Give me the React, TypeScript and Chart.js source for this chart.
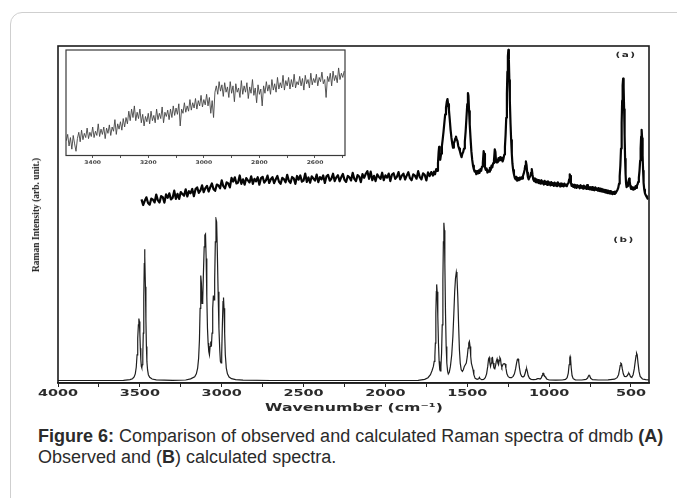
import React, { useEffect, useRef } from "react";
import { Chart, registerables } from "chart.js";

Chart.register(...registerables);

// ---------- DATA ----------
// x-axis tick positions (cm^-1); labels shown on multiples of 500
const xTickValues: number[] = [4000, 3750, 3500, 3250, 3000, 2750, 2500, 2250, 2000, 1750, 1500, 1250, 1000, 750, 500];
// inset tick positions; labels shown on multiples of 200
const insetTickValues: number[] = [3400, 3300, 3200, 3100, 3000, 2900, 2800, 2700, 2600, 2500];

const panelLabels: string[] = ["(a)", "(b)"];
const xTitle = "Wavenumber (cm\u207B\u00B9)";
const yTitle = "Raman Intensity (arb. unit.)";

// (b) calculated spectrum: [wavenumber, intensity]
const calcSpectrum: [number, number][] = [
  [4000, 1.5], [3600, 1.6], [3560, 2.0], [3545, 2.6], [3535, 3.6], [3528, 5.5], [3522, 9.5], [3517, 17], [3513, 27], [3509, 35],
  [3506, 38.8], [3503, 37], [3500, 30], [3497, 21], [3494, 14], [3491, 10], [3488, 9.1], [3485, 11], [3482, 17], [3479, 30],
  [3476, 52], [3473, 72], [3471, 80.6], [3469, 76], [3466, 58], [3463, 38], [3460, 22], [3457, 13], [3453, 8], [3448, 5],
  [3440, 3.4], [3425, 2.4], [3400, 1.9], [3300, 1.6], [3220, 1.8], [3190, 2.5], [3165, 3.8], [3155, 5.5], [3147, 9], [3141, 15],
  [3136, 26], [3132, 45], [3129, 60], [3127, 64.8], [3124, 60], [3120, 48], [3116, 50], [3112, 65], [3107, 82], [3103, 89],
  [3099, 89.7], [3095, 75], [3091, 52], [3087, 33], [3083, 24], [3079, 19], [3075, 17], [3071, 22], [3067, 25], [3063, 22],
  [3059, 30], [3055, 45], [3051, 52.7], [3047, 50], [3043, 62], [3039, 85], [3035, 98.8], [3031, 97], [3027, 80], [3022, 55],
  [3017, 33], [3012, 20], [3008, 13], [3004, 12.1], [3000, 18], [2996, 35], [2992, 49], [2989, 51.5], [2986, 45], [2982, 30],
  [2978, 17], [2972, 9], [2965, 5.5], [2955, 3.6], [2940, 2.6], [2915, 2.0], [2870, 1.7], [2700, 1.5], [2000, 1.5], [1800, 1.6],
  [1760, 2.2], [1740, 3.2], [1725, 5], [1715, 7.5], [1707, 10], [1702, 13], [1698, 16], [1695, 24], [1692, 42], [1689, 55],
  [1687, 59.4], [1684, 55], [1680, 40], [1676, 24], [1672, 13], [1668, 8], [1665, 7.3], [1661, 10], [1657, 18], [1653, 35],
  [1649, 62], [1646, 85], [1643, 96.5], [1640, 92], [1637, 72], [1633, 42], [1629, 22], [1625, 12], [1620, 7], [1616, 5.5],
  [1610, 6.5], [1603, 10], [1595, 17], [1588, 28], [1582, 42], [1577, 55], [1572, 63], [1567, 66.8], [1563, 64], [1558, 52],
  [1553, 35], [1548, 20], [1543, 12], [1537, 8], [1530, 7], [1524, 8], [1518, 10], [1512, 11], [1506, 12], [1500, 16],
  [1495, 21], [1491, 24], [1487, 25], [1483, 22], [1479, 16], [1475, 12], [1470, 10], [1465, 8], [1460, 5], [1452, 2.8],
  [1440, 2.2], [1430, 2.6], [1426, 3.4], [1422, 2.6], [1412, 2.0], [1400, 2.2], [1390, 3.2], [1382, 5.5], [1375, 10], [1370, 14.5],
  [1366, 15.3], [1362, 12], [1358, 10], [1354, 12], [1350, 15], [1346, 15.3], [1342, 12], [1337, 9], [1332, 8.5], [1328, 10],
  [1323, 13], [1318, 14.5], [1313, 12], [1309, 11], [1305, 13.5], [1301, 15.3], [1297, 14.5], [1293, 11], [1289, 9.5], [1285, 10.5],
  [1280, 11.5], [1274, 11.7], [1269, 11.5], [1264, 9], [1258, 5.5], [1250, 3.8], [1240, 3.2], [1230, 3.2], [1220, 4.0], [1212, 5.5],
  [1205, 8.5], [1199, 12], [1194, 14.2], [1190, 14.5], [1186, 13], [1181, 9], [1175, 5.5], [1168, 4], [1160, 3.6], [1152, 4.2],
  [1146, 6], [1141, 8.2], [1137, 8.5], [1133, 7], [1128, 4.5], [1120, 2.8], [1110, 2.2], [1095, 2.0], [1080, 2.2], [1070, 2.6],
  [1062, 2.6], [1055, 2.4], [1048, 3.0], [1043, 4.5], [1039, 5.8], [1036, 5.9], [1032, 5], [1028, 4.2], [1024, 3.8], [1020, 3.2],
  [1012, 2.2], [1000, 1.8], [960, 1.7], [920, 1.8], [900, 2.2], [890, 3.2], [883, 6], [878, 11], [874, 15.2], [872, 15.9],
  [869, 14.5], [865, 9], [860, 4.5], [853, 2.6], [840, 1.9], [800, 1.8], [775, 2.2], [765, 3.0], [760, 4.2], [756, 4.7],
  [752, 4.2], [746, 2.8], [735, 2.0], [700, 1.8], [640, 1.9], [600, 2.3], [585, 3.2], [576, 5], [570, 8], [566, 10.5],
  [562, 11.9], [558, 11.5], [553, 8.5], [547, 5.5], [540, 4], [530, 3.8], [522, 4.5], [517, 5.5], [513, 5.9], [509, 5.2],
  [503, 3.8], [495, 3.4], [487, 5], [480, 8.5], [474, 13], [469, 16.5], [466, 18], [462, 17], [457, 12], [451, 7],
  [444, 4], [430, 2.4], [410, 2.0], [390, 1.9],
];

// (a) observed spectrum: [wavenumber, intensity]
const observedSpectrum: [number, number][] = [
  [3490, 10.3], [3480, 7.0], [3470, 9.5], [3460, 11.5], [3450, 8.2], [3440, 7.2], [3430, 10.8], [3420, 10.1], [3410, 8.5], [3400, 13.1],
  [3390, 9.7], [3380, 8.5], [3370, 12.2], [3360, 11.6], [3350, 8.4], [3340, 13.2], [3330, 11.2], [3320, 13.8], [3310, 10.3], [3300, 11.1],
  [3290, 15.4], [3280, 10.6], [3270, 13.5], [3260, 10.6], [3250, 14.6], [3240, 13.4], [3230, 12.4], [3220, 16.2], [3210, 12.0], [3200, 15.1],
  [3190, 13.9], [3180, 16.4], [3170, 12.2], [3160, 16.3], [3150, 17.3], [3140, 14.1], [3130, 15.5], [3120, 18.5], [3110, 14.5], [3100, 16.9],
  [3090, 18.2], [3080, 14.9], [3070, 17.4], [3060, 19.6], [3050, 16.3], [3040, 15.3], [3030, 19.0], [3020, 18.4], [3010, 16.8], [3000, 21.4],
  [2990, 18.0], [2980, 16.7], [2970, 20.3], [2960, 19.6], [2950, 17.3], [2940, 22.9], [2930, 20.7], [2920, 23.2], [2910, 19.6], [2900, 20.2],
  [2890, 24.3], [2880, 19.4], [2870, 22.0], [2860, 18.9], [2850, 22.8], [2840, 21.4], [2830, 20.2], [2820, 23.8], [2810, 19.4], [2800, 22.3],
  [2790, 20.9], [2780, 23.3], [2770, 18.9], [2760, 22.7], [2750, 23.5], [2740, 20.1], [2730, 21.4], [2720, 24.2], [2710, 19.9], [2700, 22.1],
  [2690, 23.3], [2680, 19.8], [2670, 22.1], [2660, 24.0], [2650, 20.6], [2640, 19.4], [2630, 22.9], [2620, 22.1], [2610, 20.3], [2600, 24.7],
  [2590, 21.2], [2580, 19.9], [2570, 23.4], [2560, 22.6], [2550, 19.4], [2540, 24.0], [2530, 21.8], [2520, 24.3], [2510, 20.7], [2500, 21.3],
  [2490, 25.4], [2480, 20.5], [2470, 23.1], [2460, 20.0], [2450, 23.8], [2440, 22.5], [2430, 21.3], [2420, 24.8], [2410, 20.4], [2400, 23.3],
  [2390, 22.0], [2380, 24.3], [2370, 19.9], [2360, 23.8], [2350, 24.6], [2340, 21.2], [2330, 22.4], [2320, 25.3], [2310, 21.0], [2300, 23.2],
  [2290, 24.4], [2280, 20.9], [2270, 23.2], [2260, 25.2], [2250, 21.7], [2240, 20.5], [2230, 24.0], [2220, 23.2], [2210, 21.4], [2200, 25.8],
  [2190, 22.3], [2180, 21.0], [2170, 24.5], [2160, 23.7], [2150, 20.4], [2140, 25.1], [2130, 22.9], [2120, 25.3], [2110, 26.8], [2100, 22.3],
  [2090, 26.5], [2080, 21.5], [2070, 24.1], [2060, 21.0], [2050, 24.9], [2040, 23.5], [2030, 22.3], [2020, 25.9], [2010, 21.5], [2000, 24.4],
  [1990, 23.0], [1980, 25.4], [1970, 21.0], [1960, 24.8], [1950, 25.6], [1940, 22.3], [1930, 23.5], [1920, 26.3], [1910, 22.0], [1900, 24.2],
  [1890, 25.4], [1880, 21.9], [1870, 24.2], [1860, 26.2], [1850, 22.7], [1840, 21.5], [1830, 25.0], [1820, 24.2], [1810, 22.4], [1800, 26.8],
  [1790, 23.3], [1780, 22.0], [1770, 25.5], [1760, 24.7], [1750, 21.4], [1740, 26.1], [1730, 23.9], [1720, 26.3], [1710, 24.2], [1703, 26.5],
  [1697, 25.0], [1690, 28.0], [1684, 27.0], [1679, 31.5], [1675, 38.0], [1672, 41.0], [1669, 34.0], [1665, 33.5], [1660, 37.0], [1655, 41.5],
  [1650, 45.5], [1645, 50.0], [1640, 55.0], [1635, 60.0], [1630, 64.0], [1625, 67.5], [1621, 69.0], [1617, 66.0], [1612, 62.5], [1607, 57.0],
  [1602, 51.0], [1597, 46.5], [1592, 43.0], [1587, 40.5], [1582, 43.5], [1578, 44.0], [1573, 46.0], [1569, 47.0], [1565, 45.5], [1560, 44.5],
  [1555, 41.5], [1550, 40.0], [1545, 38.5], [1540, 36.5], [1535, 35.0], [1530, 37.0], [1525, 38.0], [1520, 40.0], [1515, 44.0], [1510, 50.0],
  [1505, 58.0], [1500, 66.0], [1496, 72.5], [1493, 71.0], [1489, 62.0], [1485, 54.0], [1480, 46.0], [1475, 38.5], [1470, 33.5], [1465, 30.0],
  [1460, 28.0], [1455, 26.5], [1450, 27.0], [1445, 25.0], [1440, 26.8], [1435, 25.5], [1430, 27.2], [1425, 25.8], [1420, 28.0], [1415, 27.0],
  [1410, 29.5], [1405, 31.5], [1400, 38.5], [1396, 37.0], [1392, 29.0], [1387, 27.5], [1382, 28.4], [1377, 26.0], [1372, 27.2], [1367, 26.5],
  [1362, 28.8], [1357, 27.5], [1352, 30.0], [1347, 29.0], [1342, 31.5], [1337, 33.0], [1332, 39.5], [1328, 38.0], [1324, 32.0], [1319, 33.5],
  [1314, 32.0], [1309, 34.5], [1304, 33.0], [1299, 35.0], [1294, 33.2], [1289, 34.8], [1284, 32.5], [1279, 34.0], [1274, 36.5], [1270, 41.0],
  [1266, 48.0], [1262, 58.0], [1258, 72.0], [1255, 85.0], [1252, 94.0], [1249, 97.7], [1246, 92.0], [1243, 80.0], [1240, 68.0], [1236, 55.0],
  [1232, 45.0], [1228, 37.0], [1224, 31.0], [1220, 27.5], [1215, 25.0], [1210, 23.0], [1205, 22.0], [1200, 23.5], [1195, 21.2], [1190, 22.8],
  [1185, 21.5], [1180, 23.0], [1175, 22.0], [1170, 23.2], [1165, 22.5], [1160, 24.0], [1155, 25.5], [1150, 27.5], [1146, 30.0], [1142, 32.5],
  [1138, 30.5], [1134, 26.0], [1130, 23.5], [1125, 22.0], [1120, 23.2], [1115, 24.0], [1110, 26.0], [1106, 28.0], [1102, 25.0], [1097, 22.0],
  [1092, 21.0], [1087, 22.6], [1082, 20.4], [1077, 22.0], [1072, 20.2], [1067, 21.6], [1062, 19.8], [1057, 21.2], [1052, 19.5], [1047, 21.5],
  [1042, 19.6], [1037, 20.8], [1032, 19.0], [1027, 21.1], [1022, 19.3], [1017, 20.6], [1012, 18.8], [1007, 20.9], [1002, 19.0], [997, 20.2],
  [992, 18.5], [987, 20.4], [982, 18.7], [977, 19.8], [972, 18.2], [967, 20.1], [962, 18.4], [957, 19.6], [952, 18.0], [947, 20.3],
  [942, 18.5], [937, 19.4], [932, 17.8], [927, 19.6], [922, 18.1], [917, 19.2], [912, 17.9], [907, 19.5], [902, 18.4], [897, 19.0],
  [892, 18.0], [887, 19.4], [882, 19.8], [878, 22.0], [874, 25.0], [871, 24.0], [867, 20.0], [863, 18.2], [858, 19.0], [853, 17.6],
  [848, 18.8], [843, 17.2], [838, 18.5], [833, 17.0], [828, 18.6], [823, 17.4], [818, 18.2], [813, 16.8], [808, 18.6], [803, 17.1],
  [798, 18.0], [793, 16.6], [788, 18.3], [783, 16.9], [778, 17.8], [773, 16.4], [768, 18.7], [763, 16.5], [758, 17.6], [753, 16.2],
  [748, 17.4], [743, 16.0], [738, 17.5], [733, 15.9], [728, 17.1], [723, 15.6], [718, 17.3], [713, 15.8], [708, 16.8], [703, 15.4],
  [698, 16.9], [693, 15.2], [688, 16.6], [683, 15.0], [678, 16.5], [673, 14.8], [668, 16.0], [663, 14.5], [658, 15.8], [653, 14.3],
  [648, 15.6], [643, 14.0], [638, 15.4], [633, 13.8], [628, 15.2], [623, 13.6], [618, 14.8], [613, 13.4], [608, 14.6], [603, 13.5],
  [598, 14.9], [593, 14.0], [588, 15.0], [583, 15.8], [578, 17.0], [573, 19.5], [569, 24.0], [565, 30.0], [561, 40.0], [557, 55.0],
  [554, 68.0], [551, 77.0], [548, 81.0], [545, 76.0], [542, 63.0], [539, 48.0], [536, 34.0], [533, 25.0], [530, 19.5], [527, 17.5],
  [523, 18.0], [519, 19.5], [515, 21.0], [511, 22.5], [508, 21.0], [504, 18.0], [500, 16.5], [496, 17.5], [492, 16.2], [488, 17.4],
  [484, 16.0], [480, 17.2], [476, 16.4], [472, 18.0], [468, 17.0], [464, 18.5], [460, 19.0], [456, 20.5], [452, 23.0], [448, 27.0],
  [444, 33.0], [441, 40.0], [438, 47.0], [435, 51.0], [432, 46.0], [429, 36.0], [426, 27.0], [423, 20.0], [419, 16.0], [415, 14.0],
  [411, 13.0], [407, 12.2], [403, 11.5], [399, 10.8], [395, 10.5],
];

// inset: observed spectrum 3500-2500 cm^-1, [wavenumber, intensity]
const insetSpectrum: [number, number][] = [
  [3495, 14], [3490, 20], [3485, 9], [3480, 17], [3475, 6], [3470, 19], [3465, 11], [3460, 4], [3455, 16], [3450, 22],
  [3445, 13], [3440, 24], [3435, 15], [3430, 21], [3425, 17], [3420, 26], [3415, 16], [3410, 22], [3405, 18], [3400, 27],
  [3395, 17], [3390, 23], [3385, 19], [3380, 30], [3375, 18], [3370, 25], [3365, 20], [3360, 27], [3355, 16], [3350, 26],
  [3345, 21], [3340, 29], [3335, 19], [3330, 27], [3325, 23], [3320, 34], [3315, 20], [3310, 30], [3305, 25], [3300, 32],
  [3295, 24], [3290, 35], [3285, 27], [3280, 36], [3275, 30], [3270, 42], [3265, 33], [3260, 44], [3255, 36], [3250, 47],
  [3245, 33], [3240, 41], [3235, 35], [3230, 44], [3225, 31], [3220, 39], [3215, 28], [3210, 37], [3205, 32], [3200, 40],
  [3195, 30], [3190, 42], [3185, 33], [3180, 38], [3175, 31], [3170, 44], [3165, 34], [3160, 40], [3155, 35], [3150, 46],
  [3145, 31], [3140, 41], [3135, 37], [3130, 43], [3125, 34], [3120, 44], [3115, 36], [3110, 47], [3105, 38], [3100, 45],
  [3095, 39], [3090, 49], [3085, 28], [3080, 44], [3075, 40], [3070, 50], [3065, 41], [3060, 47], [3055, 42], [3050, 53],
  [3045, 43], [3040, 50], [3035, 45], [3030, 54], [3025, 44], [3020, 52], [3015, 47], [3010, 57], [3005, 46], [3000, 53],
  [2995, 48], [2990, 58], [2985, 47], [2980, 55], [2975, 40], [2970, 52], [2965, 36], [2960, 60], [2955, 66], [2950, 58],
  [2945, 70], [2940, 61], [2935, 67], [2930, 56], [2925, 69], [2920, 60], [2915, 65], [2910, 55], [2905, 70], [2900, 59],
  [2895, 66], [2890, 51], [2885, 68], [2880, 60], [2875, 64], [2870, 55], [2865, 71], [2860, 58], [2855, 66], [2850, 60],
  [2845, 69], [2840, 54], [2835, 65], [2830, 59], [2825, 72], [2820, 57], [2815, 64], [2810, 50], [2805, 67], [2800, 58],
  [2795, 63], [2790, 47], [2785, 66], [2780, 59], [2775, 70], [2770, 61], [2765, 67], [2760, 58], [2755, 72], [2750, 62],
  [2745, 68], [2740, 60], [2735, 74], [2730, 63], [2725, 69], [2720, 64], [2715, 76], [2710, 62], [2705, 71], [2700, 66],
  [2695, 74], [2690, 63], [2685, 72], [2680, 65], [2675, 77], [2670, 64], [2665, 70], [2660, 67], [2655, 75], [2650, 66],
  [2645, 73], [2640, 62], [2635, 76], [2630, 68], [2625, 72], [2620, 64], [2615, 78], [2610, 67], [2605, 73], [2600, 69],
  [2595, 77], [2590, 66], [2585, 74], [2580, 70], [2575, 79], [2570, 68], [2565, 72], [2560, 55], [2555, 75], [2550, 70],
  [2545, 78], [2540, 66], [2535, 80], [2530, 71], [2525, 76], [2520, 69], [2515, 83], [2510, 72], [2505, 78], [2500, 74],
  [2495, 80],
];

// ---------- PLUGINS ----------
const mainDecor = {
  id: "mainDecor",
  afterDraw(chart: any) {
    const { ctx, chartArea: a } = chart;
    const xs = chart.scales.x;
    ctx.save();
    ctx.strokeStyle = "#1c1c1c";
    ctx.lineWidth = 1.6;
    ctx.strokeRect(a.left, a.top, a.right - a.left, a.bottom - a.top);
    ctx.fillStyle = "#2a2a2a";
    ctx.font = 'bold 8.5px "DejaVu Sans"';
    ctx.textAlign = "center";
    ctx.textBaseline = "middle";
    for (const t of xs.ticks) {
      if (t.value % 500 !== 0) continue;
      const px = xs.getPixelForValue(t.value);
      ctx.save();
      ctx.translate(px, a.bottom + 11);
      ctx.scale(1.7, 1);
      ctx.fillText(String(t.value), 0, 0);
      ctx.restore();
    }
    ctx.restore();
  },
};

const insetDecor = {
  id: "insetDecor",
  afterDraw(chart: any) {
    const { ctx, chartArea: a } = chart;
    const xs = chart.scales.x;
    ctx.save();
    ctx.strokeStyle = "#3a3a3a";
    ctx.lineWidth = 1.2;
    ctx.strokeRect(a.left, a.top, a.right - a.left, a.bottom - a.top);
    ctx.fillStyle = "#444";
    ctx.font = 'bold 5px "DejaVu Sans"';
    ctx.textAlign = "center";
    ctx.textBaseline = "middle";
    for (const t of xs.ticks) {
      if (t.value % 200 !== 0) continue;
      const px = xs.getPixelForValue(t.value);
      ctx.save();
      ctx.translate(px, a.bottom + 7);
      ctx.scale(1.2, 1);
      ctx.fillText(String(t.value), 0, 0);
      ctx.restore();
    }
    ctx.restore();
  },
};

const toXY = (arr: [number, number][]) => arr.map(([x, y]) => ({ x, y }));

export default function App() {
  const mainRef = useRef<HTMLCanvasElement>(null);
  const insetRef = useRef<HTMLCanvasElement>(null);

  useEffect(() => {
    const main = new Chart(mainRef.current as HTMLCanvasElement, {
      type: "line",
      data: {
        datasets: [
          {
            label: "Calculated",
            data: toXY(calcSpectrum),
            xAxisID: "x",
            yAxisID: "yb",
            borderColor: "#1e1e1e",
            borderWidth: 1.2,
            pointRadius: 0,
            tension: 0,
          },
          {
            label: "Observed",
            data: toXY(observedSpectrum),
            xAxisID: "x",
            yAxisID: "ya",
            borderColor: "#050505",
            borderWidth: 2.2,
            borderJoinStyle: "round",
            pointRadius: 0,
            tension: 0,
          },
        ],
      },
      options: {
        animation: false,
        responsive: false,
        events: [],
        layout: { padding: { left: 58, right: 28, top: 46, bottom: 33 } },
        plugins: { legend: { display: false }, tooltip: { enabled: false }, title: { display: false } },
        scales: {
          x: {
            type: "linear",
            reverse: true,
            min: 390,
            max: 4000,
            afterBuildTicks: (s: any) => {
              s.ticks = xTickValues.map((v) => ({ value: v }));
            },
            ticks: { display: false },
            grid: { drawOnChartArea: false, drawTicks: true, tickLength: 4, color: "#222", lineWidth: 1 },
            border: { display: true, color: "#1c1c1c", width: 1.6 },
          },
          ya: {
            type: "linear",
            display: false,
            min: 0,
            max: 100,
            stack: "panels",
            stackWeight: 171,
            weight: 2,
          },
          yb: {
            type: "linear",
            display: false,
            min: 0,
            max: 100,
            stack: "panels",
            stackWeight: 166,
            weight: 1,
          },
        },
      } as any,
      plugins: [mainDecor],
    });

    const inset = new Chart(insetRef.current as HTMLCanvasElement, {
      type: "line",
      data: {
        datasets: [
          {
            label: "Observed 3500-2500",
            data: toXY(insetSpectrum),
            borderColor: "#444",
            borderWidth: 0.9,
            pointRadius: 0,
            tension: 0,
          },
        ],
      },
      options: {
        animation: false,
        responsive: false,
        events: [],
        layout: { padding: { left: 6, right: 7, top: 6, bottom: 16 } },
        plugins: { legend: { display: false }, tooltip: { enabled: false } },
        scales: {
          x: {
            type: "linear",
            reverse: true,
            min: 2492,
            max: 3496,
            afterBuildTicks: (s: any) => {
              s.ticks = insetTickValues.map((v) => ({ value: v }));
            },
            ticks: { display: false },
            grid: { drawOnChartArea: false, drawTicks: true, tickLength: 2.5, color: "#555", lineWidth: 1 },
            border: { display: false },
          },
          y: { type: "linear", display: false, min: 0, max: 100 },
        },
      } as any,
      plugins: [insetDecor],
    });

    return () => {
      main.destroy();
      inset.destroy();
    };
  }, []);

  const abs: React.CSSProperties = { position: "absolute" };

  return (
    <div style={{ position: "absolute", left: 0, top: 0, width: 677, height: 498, overflow: "hidden", background: "#fff" }}>
      <div
        style={{
          ...abs,
          left: 10,
          top: 12,
          width: 720,
          height: 560,
          border: "1px solid #cfcfcf",
          borderRadius: 12,
          boxSizing: "border-box",
        }}
      />
      <canvas ref={mainRef} width={677} height={420} style={{ ...abs, left: 0, top: 0, width: 677, height: 420 }} />
      <canvas ref={insetRef} width={292} height={130} style={{ ...abs, left: 60, top: 44, width: 292, height: 130 }} />
      <div
        style={{
          ...abs,
          left: 36,
          top: 215,
          transform: "translate(-50%, -50%) rotate(-90deg)",
          whiteSpace: "nowrap",
          font: 'bold 9.5px "Liberation Serif", serif',
          color: "#1a1a1a",
        }}
      >
        {yTitle}
      </div>
      <div
        style={{
          ...abs,
          left: 353.5,
          top: 407,
          transform: "translate(-50%, -50%) scaleX(1.5)",
          whiteSpace: "nowrap",
          font: 'bold 10.5px "DejaVu Sans", sans-serif',
          color: "#2a2a2a",
        }}
      >
        {xTitle}
      </div>
      <div
        style={{
          ...abs,
          left: 626,
          top: 55,
          transform: "translate(-50%, -50%) scaleX(1.5)",
          whiteSpace: "nowrap",
          font: 'bold 7px "DejaVu Sans", sans-serif',
          letterSpacing: 1,
          color: "#2a2a2a",
        }}
      >
        {panelLabels[0]}
      </div>
      <div
        style={{
          ...abs,
          left: 624,
          top: 240,
          transform: "translate(-50%, -50%) scaleX(1.5)",
          whiteSpace: "nowrap",
          font: 'bold 7px "DejaVu Sans", sans-serif',
          letterSpacing: 1,
          color: "#2a2a2a",
        }}
      >
        {panelLabels[1]}
      </div>
      <div
        style={{
          ...abs,
          left: 38,
          top: 426,
          whiteSpace: "nowrap",
          font: '18px "Liberation Sans", Arial, sans-serif',
          lineHeight: "21px",
          color: "#2b2b2b",
        }}
      >
        <b>Figure 6:</b> Comparison of observed and calculated Raman spectra of dmdb <b>(A)</b>
        <br />
        Observed and (<b>B</b>) calculated spectra.
      </div>
    </div>
  );
}
